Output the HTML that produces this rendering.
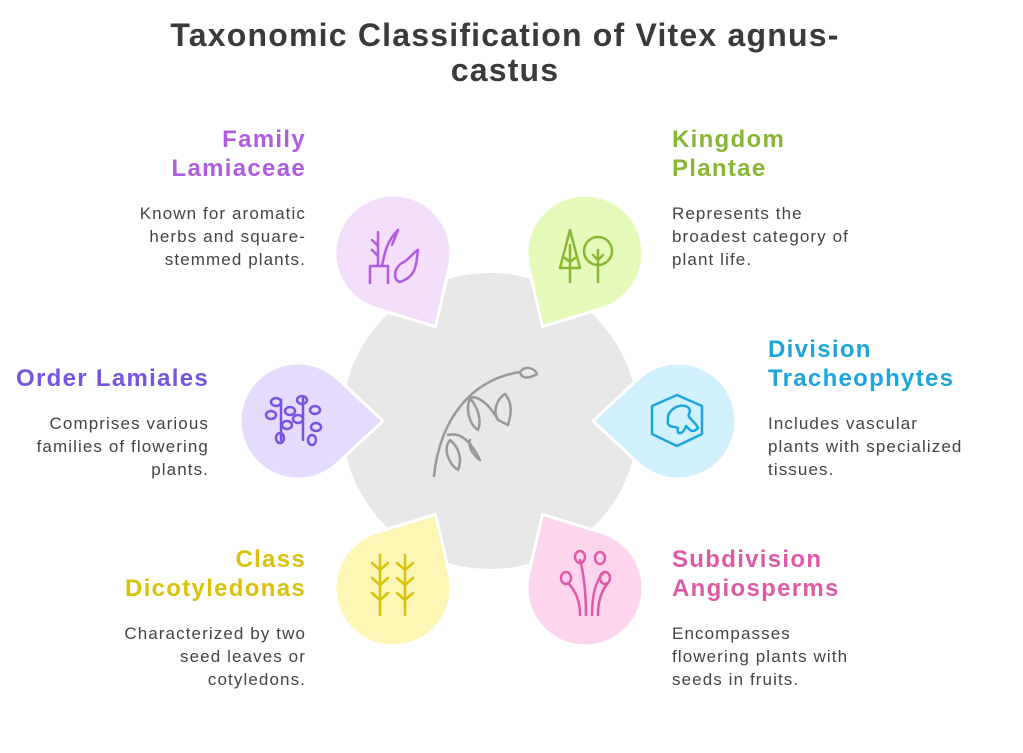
<!DOCTYPE html>
<html><head><meta charset="utf-8"><style>
body{margin:0;width:1023px;height:753px;background:#fff;position:relative;overflow:hidden;font-family:"Liberation Sans",sans-serif;}
.t{position:absolute;font-weight:bold;font-size:24px;letter-spacing:1.3px;line-height:29px;white-space:nowrap;}
.d{position:absolute;font-size:17px;letter-spacing:1.1px;line-height:23px;color:#444;white-space:nowrap;}
.l{text-align:right;right:717px;}
.r{left:672px;}
h1{position:absolute;left:0;width:1010px;top:18px;margin:0;text-align:center;font-size:32px;letter-spacing:1.2px;line-height:35px;color:#3a3a3a;}
</style></head><body>
<h1>Taxonomic Classification of Vitex agnus-<br>castus</h1>
<svg width="1023" height="753" style="position:absolute;left:0;top:0">
<defs><path id="tp" d="M39.6,-42.4 L85,0 L39.6,42.4 A58,58 0 1 1 39.6,-42.4 Z"/></defs>
<circle cx="490" cy="421" r="148" fill="#e8e8e8"/>
<g stroke="#fff" stroke-width="3">
<use href="#tp" fill="#f3dffc" transform="translate(393,253) rotate(60)"/>
<use href="#tp" fill="#e6fab9" transform="translate(585,253) rotate(120)"/>
<use href="#tp" fill="#e5dcfd" transform="translate(298,421) rotate(0)"/>
<use href="#tp" fill="#d0f1fd" transform="translate(678,421) rotate(180)"/>
<use href="#tp" fill="#fdf6b4" transform="translate(393,588) rotate(-60)"/>
<use href="#tp" fill="#fdd6ee" transform="translate(585,588) rotate(-120)"/>
</g>
<g fill="none" stroke-width="2.5" stroke-linecap="round" stroke-linejoin="round">
<g stroke="#999"><path d="M434,476 C440,420 470,380 520,372"/><path d="M520,372 C525,365 535,368 537,374 C530,378 522,380 520,372Z"/><path d="M470,398 C478,395 490,405 498,420 M498,420 C492,410 498,398 505,394 C512,402 512,412 508,425Z"/><path d="M470,398 C465,410 470,425 478,430 C482,420 478,408 470,398Z"/><path d="M448,435 C460,432 470,440 480,460 C472,455 468,445 470,440"/><path d="M450,440 C442,450 450,465 458,470 C462,460 460,448 450,440Z"/></g>
<g stroke="#b05ce0"><path d="M370,283 V266 H388 V283 M382,266 C385,250 388,240 398,230 L392,245 M378,266 V242 M372,250 L378,256 M372,240 L378,246 M378,232 L378,242"/><path d="M400,282 C392,280 394,266 404,262 C410,258 414,252 418,250 C416,262 418,276 400,282Z"/></g>
<g stroke="#88b733"><path d="M570,230 L560,268 H580 Z M570,245 V282 M565,258 L570,262 L575,258"/><circle cx="598" cy="251" r="14"/><path d="M598,250 V282 M593,255 L598,260 L603,255"/></g>
<g stroke="#7653e0"><path d="M281,400 V440 M303,398 V440"/><ellipse cx="276" cy="402" rx="5" ry="4"/><ellipse cx="290" cy="411" rx="5" ry="4"/><ellipse cx="271" cy="415" rx="5" ry="4"/><ellipse cx="287" cy="425" rx="5" ry="4"/><ellipse cx="280" cy="438" rx="4" ry="5"/><ellipse cx="302" cy="400" rx="5" ry="4"/><ellipse cx="315" cy="410" rx="5" ry="4"/><ellipse cx="298" cy="419" rx="5" ry="4"/><ellipse cx="316" cy="427" rx="5" ry="4"/><ellipse cx="312" cy="440" rx="4" ry="5"/></g>
<g stroke="#1ea5da"><path d="M677,395 L702,406 V434 L677,446 L652,434 V406 Z"/><path d="M668,416 C672,404 690,402 690,412 C685,418 695,420 698,428 C692,434 690,430 686,426 C684,434 676,436 678,428 C674,426 666,428 668,420Z"/></g>
<g stroke="#d8c20c"><path d="M380,555 V615 M405,555 V615 M380,570 L372,563 M380,570 L388,563 M380,585 L372,578 M380,585 L388,578 M380,600 L372,593 M380,600 L388,593 M405,570 L397,563 M405,570 L413,563 M405,585 L397,578 M405,585 L413,578 M405,600 L397,593 M405,600 L413,593"/></g>
<g stroke="#df5aa6"><path d="M580,615 C580,600 575,590 568,583 M586,615 C586,590 583,570 580,560 M592,615 C592,595 596,580 604,572 M598,615 C598,600 602,590 608,583"/><ellipse cx="566" cy="578" rx="5" ry="6"/><ellipse cx="580" cy="557" rx="5" ry="6"/><ellipse cx="600" cy="558" rx="5" ry="6"/><ellipse cx="605" cy="578" rx="5" ry="6"/></g>
</g>
</svg>
<div class="t l" style="top:125px;color:#b05ce0">Family<br>Lamiaceae</div>
<div class="d l" style="top:202px">Known for aromatic<br>herbs and square-<br>stemmed plants.</div>
<div class="t r" style="top:125px;color:#88b733">Kingdom<br>Plantae</div>
<div class="d r" style="top:202px">Represents the<br>broadest category of<br>plant life.</div>
<div class="t l" style="top:364px;color:#7653e0;right:814px">Order Lamiales</div>
<div class="d l" style="top:412px;right:814px">Comprises various<br>families of flowering<br>plants.</div>
<div class="t" style="left:768px;top:335px;color:#1ea5da">Division<br>Tracheophytes</div>
<div class="d" style="left:768px;top:412px">Includes vascular<br>plants with specialized<br>tissues.</div>
<div class="t l" style="top:545px;color:#d8c20c">Class<br>Dicotyledonas</div>
<div class="d l" style="top:622px">Characterized by two<br>seed leaves or<br>cotyledons.</div>
<div class="t r" style="top:545px;color:#df5aa6">Subdivision<br>Angiosperms</div>
<div class="d r" style="top:622px">Encompasses<br>flowering plants with<br>seeds in fruits.</div>
</body></html>
